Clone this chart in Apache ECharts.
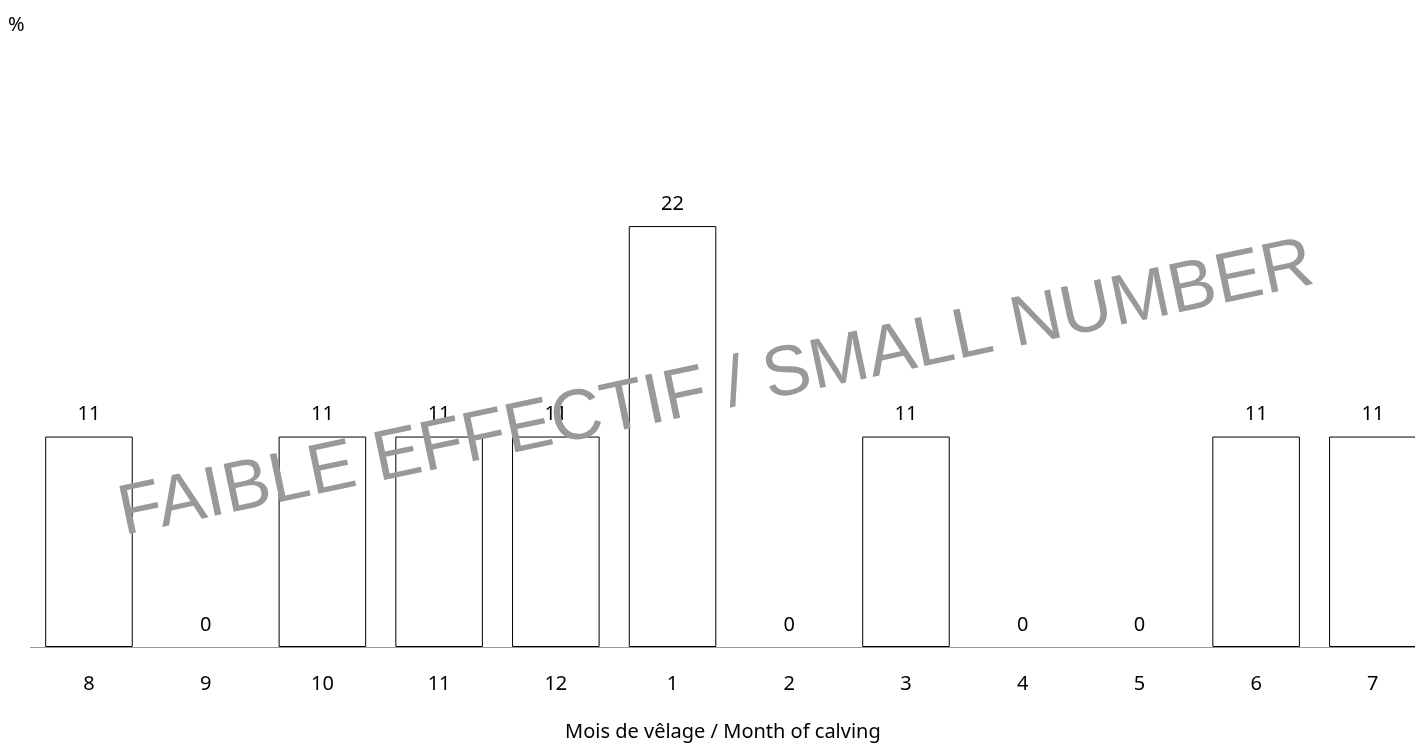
<!DOCTYPE html>
<html><head><meta charset="utf-8">
<script src="https://cdn.jsdelivr.net/npm/echarts@6/dist/echarts.min.js"></script>
<style>html,body{margin:0;padding:0;background:#fff;overflow:hidden;width:1415px;height:747px}#c{width:1432px;height:747px}</style>
</head><body><div id="c"></div>
<script>
const categories = ['8','9','10','11','12','1','2','3','4','5','6','7'];
const values = [11,0,11,11,11,22,0,11,0,0,11,11];
const xName = 'Mois de vêlage / Month of calving';
const unitLabel = '%';
const watermark = 'FAIBLE EFFECTIF / SMALL NUMBER';
const FONT = 'Noto Sans';
const chart = echarts.init(document.getElementById('c'));
chart.setOption({
  animation:false,
  grid:{left:30.6,right:0.8,top:73,height:578,containLabel:false},
  xAxis:{type:'category',data:categories,
    axisLine:{lineStyle:{color:'#999',width:1}},axisTick:{show:false},
    axisLabel:{color:'#000',fontFamily:FONT,fontSize:20,margin:27},
    name:xName,nameLocation:'middle',nameGap:75,
    nameTextStyle:{color:'#000',fontFamily:FONT,fontSize:20,padding:[0,0,0,-16]}},
  yAxis:{type:'value',min:0,max:30,show:false,splitLine:{show:false}},
  series:[{type:'bar',barWidth:'75%',
    data:values.map(v=>({value:v,itemStyle:{borderWidth:v===0?0:1}})),
    itemStyle:{color:'#fff',borderColor:'#000',borderWidth:1},
    label:{show:true,position:'top',distance:12,color:'#000',fontFamily:FONT,fontSize:20}}],
  graphic:[
    {type:'text',left:8,top:15,style:{text:unitLabel,fill:'#000',font:'20px '+FONT}},
    {type:'text',x:716,y:390,rotation:0.208,
      style:{text:watermark,fill:'#999',font:'71px "Liberation Sans"',align:'center',verticalAlign:'middle'},z:100}
  ]
});
</script></body></html>
